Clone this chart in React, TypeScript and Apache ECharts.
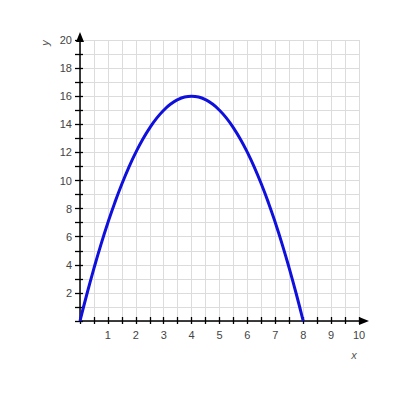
import React, { useEffect, useRef } from "react";
import * as echarts from "echarts";

const xValues = [0, 0.25, 0.5, 0.75, 1, 1.25, 1.5, 1.75, 2, 2.25, 2.5, 2.75, 3, 3.25, 3.5, 3.75, 4, 4.25, 4.5, 4.75, 5, 5.25, 5.5, 5.75, 6, 6.25, 6.5, 6.75, 7, 7.25, 7.5, 7.75, 8];
const yValues = [0, 1.94, 3.75, 5.44, 7, 8.44, 9.75, 10.94, 12, 12.94, 13.75, 14.44, 15, 15.44, 15.75, 15.94, 16, 15.94, 15.75, 15.44, 15, 14.44, 13.75, 12.94, 12, 10.94, 9.75, 8.44, 7, 5.44, 3.75, 1.94, 0];
const xRange = [0, 10];
const yRange = [0, 20];
const xName = "x";
const yName = "y";

export default function App() {
  const ref = useRef<HTMLDivElement>(null);
  useEffect(() => {
    document.body.style.margin = "0";
    const chart = echarts.init(ref.current!, null, { renderer: "svg" });
    const labelStyle = { fontFamily: "Liberation Sans, Arial, sans-serif", fontSize: 11, color: "#444" };
    chart.setOption({
      animation: false,
      grid: { left: 80, top: 40, width: 279, height: 281 },
      xAxis: [
        {
          type: "value",
          min: xRange[0],
          max: xRange[1],
          interval: 0.5,
          axisLine: { show: true, lineStyle: { color: "#000", width: 1.5 }, symbol: ["none", "triangle"], symbolSize: [8, 10], symbolOffset: [0, 5] },
          axisTick: { show: true, inside: false, length: 3, lineStyle: { color: "#000", width: 1.3 } },
          axisLabel: {
            ...labelStyle,
            margin: 8,
            formatter: (v: number) => (Number.isInteger(v) && v !== 0 ? String(v) : ""),
          },
          splitLine: { show: true, lineStyle: { color: "#dcdcdc", width: 1 } },
        },
        {
          type: "value",
          position: "bottom",
          min: xRange[0],
          max: xRange[1],
          interval: 0.5,
          axisLine: { show: false },
          axisTick: { show: true, inside: true, length: 4, lineStyle: { color: "#000", width: 1.3 } },
          axisLabel: { show: false },
          splitLine: { show: false },
        },
      ],
      yAxis: [
        {
          type: "value",
          min: yRange[0],
          max: yRange[1],
          interval: 1,
          axisLine: { show: true, lineStyle: { color: "#000", width: 1.5 }, symbol: ["none", "triangle"], symbolSize: [8, 10], symbolOffset: [0, 3] },
          axisTick: { show: true, inside: false, length: 5, lineStyle: { color: "#000", width: 1.3 } },
          axisLabel: {
            ...labelStyle,
            margin: 8,
            formatter: (v: number) => (v % 2 === 0 && v !== 0 ? String(v) : ""),
          },
          splitLine: { show: true, lineStyle: { color: "#dcdcdc", width: 1 } },
        },
        {
          type: "value",
          position: "left",
          min: yRange[0],
          max: yRange[1],
          interval: 1,
          axisLine: { show: false },
          axisTick: { show: true, inside: true, length: 3, lineStyle: { color: "#000", width: 1.3 } },
          axisLabel: { show: false },
          splitLine: { show: false },
        },
      ],
      graphic: [
        {
          type: "text",
          x: 354,
          y: 355,
          style: { text: xName, font: "italic 11px Liberation Sans, Arial, sans-serif", fill: "#555", textAlign: "center", textVerticalAlign: "middle" },
        },
        {
          type: "text",
          x: 45,
          y: 43,
          rotation: Math.PI / 2,
          style: { text: yName, font: "italic 11px Liberation Sans, Arial, sans-serif", fill: "#555", textAlign: "center", textVerticalAlign: "middle" },
        },
      ],
      series: [
        {
          type: "line",
          data: xValues.map((x, i) => [x, yValues[i]]),
          smooth: true,
          showSymbol: false,
          lineStyle: { color: "#1010dd", width: 3 },
          z: 5,
        },
      ],
    });
    return () => chart.dispose();
  }, []);
  return <div ref={ref} style={{ width: 400, height: 400 }} />;
}
